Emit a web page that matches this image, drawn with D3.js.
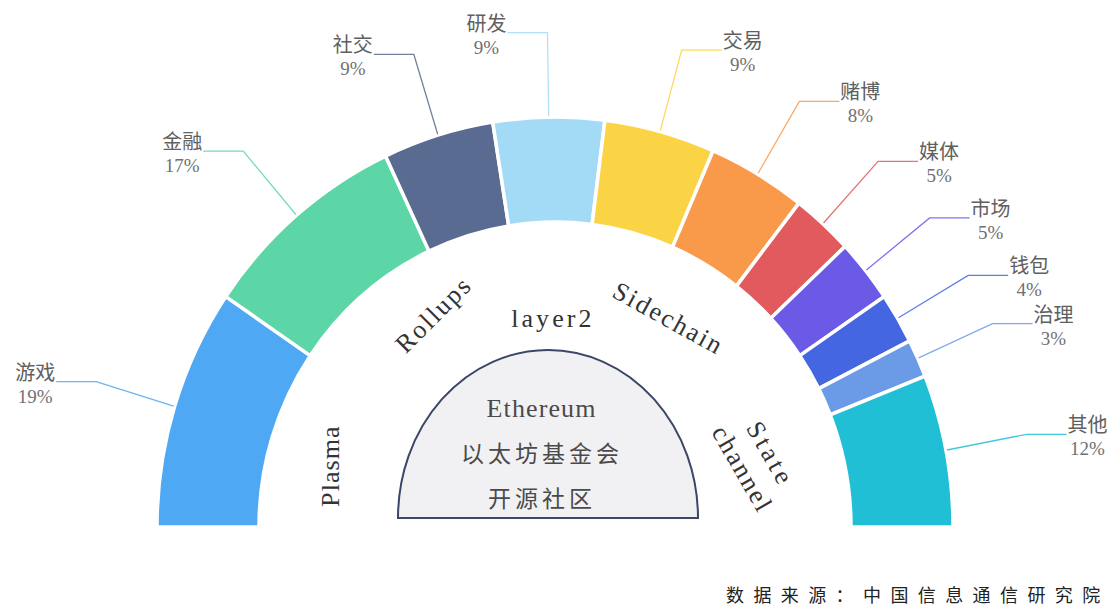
<!DOCTYPE html>
<html>
<head>
<meta charset="utf-8">
<script src="https://cdn.jsdelivr.net/npm/d3@7"></script>
<style>
  body { margin: 0; background: #fff; }
</style>
</head>
<body>
<div id="chart"></div>
<script>
// data
const categories = ['游戏', '金融', '社交', '研发', '交易', '赌博', '媒体', '市场', '钱包', '治理', '其他'];
const shares = [19, 17, 9, 9, 9, 8, 5, 5, 4, 3, 12];
const colors = ['#4fa8f3', '#5cd6a7', '#5a6b91', '#a3dbf7', '#fbd445', '#f99a4b',
  '#e05a5e', '#6a5ae6', '#4466e0', '#6b9ae6', '#20bfd5'];
const layerNames = [['Plasma'], ['Rollups'], ['layer2'], ['Sidechain'], ['State', 'channel']];
const centerLines = ['Ethereum', '以太坊基金会', '开源社区'];
const sourceNote = '数据来源：中国信息通信研究院';

// layout of the layer2 words round the dome (angle from top, radius, rotation)
const layerAngle = [-75, -30, -1, 28.3, 71.6];
const layerRadius = [233, 245, 209, 238, 212];
const layerRotate = [-90, -45, 0, 29, 60];

width = 1110;
height = 615;
cx = 555;
cy = 527;
k = 1.03; // the picture is a bit taller than wide
rOuter = 398;
rInner = 296;

const data = categories.map((c, i) => ({ name: c, value: shares[i], color: colors[i] }));

const svg = d3.select('#chart').append('svg')
  .attr('width', width)
  .attr('height', height)
  .attr('viewBox', [0, 0, width, height])
  .style('background', '#fff');

const pie = d3.pie()
  .value((d) => d.value)
  .sort(null)
  .startAngle(-Math.PI / 2)
  .endAngle(Math.PI / 2);

const arc = d3.arc().innerRadius(rInner).outerRadius(rOuter);
const arcs = pie(data);

// point on the (slightly stretched) ring
const pt = (a, r) => [cx + r * Math.sin(a), cy - r * k * Math.cos(a)];

svg.append('g')
  .attr('transform', `translate(${cx},${cy}) scale(1,${k})`)
  .selectAll('path')
  .data(arcs)
  .join('path')
  .attr('d', arc)
  .attr('fill', (d) => d.data.color)
  .attr('stroke', '#fff')
  .attr('stroke-width', 3.5)
  .attr('vector-effect', 'non-scaling-stroke');

// label lines + labels
const lab = svg.append('g');
arcs.forEach((d) => {
  const a = (d.startAngle + d.endAngle) / 2;
  const side = Math.sin(a) >= 0 ? 1 : -1;
  const p0 = pt(a, rOuter + 1);
  const p1 = pt(a, rOuter + 82);
  const p2 = [p1[0] + side * 40, p1[1]];

  lab.append('path')
    .attr('d', d3.line()([p0, p1, p2]))
    .attr('fill', 'none')
    .attr('stroke', d.data.color)
    .attr('stroke-opacity', 0.85)
    .attr('stroke-width', 1.3);

  const name = lab.append('text')
    .attr('y', p2[1] - 2)
    .attr('text-anchor', 'middle')
    .attr('font-family', '"Noto Sans CJK SC", sans-serif')
    .attr('font-size', 20)
    .attr('fill', '#606060')
    .text(d.data.name);
  const w = name.node().getComputedTextLength();
  const mid = side > 0 ? p2[0] + 1 + w / 2 : p2[0] - 1 - w / 2;
  name.attr('x', mid);

  lab.append('text')
    .attr('x', mid)
    .attr('y', p2[1] + 21)
    .attr('text-anchor', 'middle')
    .attr('font-family', '"Liberation Serif", serif')
    .attr('font-size', 19)
    .attr('fill', '#707070')
    .text(d.data.value + '%');
});

// dome in the middle
const dx = 548, dy = 518, drx = 150, dry = 168;
svg.append('path')
  .attr('d', `M${dx - drx},${dy} A${drx},${dry} 0 0 1 ${dx + drx},${dy} Z`)
  .attr('fill', '#f1f1f4')
  .attr('stroke', '#3b4668')
  .attr('stroke-width', 2);

const ct = svg.append('g').attr('fill', '#4a4a4a');
ct.append('text')
  .attr('x', 541).attr('y', 417)
  .attr('text-anchor', 'middle')
  .attr('font-family', '"Liberation Serif", serif')
  .attr('font-size', 26)
  .attr('textLength', centerLines[0].length * 13.6)
  .attr('lengthAdjust', 'spacing')
  .text(centerLines[0]);
centerLines.slice(1).forEach((t, i) => {
  ct.append('text')
    .attr('x', 542).attr('y', 462 + i * 45)
    .attr('text-anchor', 'middle')
    .attr('font-family', '"Noto Sans CJK SC", sans-serif')
    .attr('font-size', 23)
    .attr('letter-spacing', 4)
    .text(t);
});

// layer2 words
const lw = svg.append('g')
  .attr('font-family', '"Liberation Serif", serif')
  .attr('font-size', 26)
  .attr('fill', '#333');
layerNames.forEach((lines, i) => {
  const a = layerAngle[i] * Math.PI / 180;
  const p = [cx + layerRadius[i] * Math.sin(a), cy - layerRadius[i] * Math.cos(a)];
  const g = lw.append('g').attr('transform', `translate(${p[0]},${p[1]}) rotate(${layerRotate[i]})`);
  lines.forEach((t, j) => {
    g.append('text')
      .attr('y', (j - (lines.length - 1) / 2) * 32)
      .attr('dy', '0.35em')
      .attr('text-anchor', 'middle')
      .attr('textLength', t.length * 13.4)
      .attr('lengthAdjust', 'spacing')
      .text(t);
  });
});

// source
svg.append('text')
  .attr('x', 726)
  .attr('y', 602)
  .attr('font-family', '"Noto Sans CJK SC", sans-serif')
  .attr('font-size', 18)
  .attr('letter-spacing', 9.4)
  .attr('fill', '#222')
  .text(sourceNote);
</script>
</body>
</html>
